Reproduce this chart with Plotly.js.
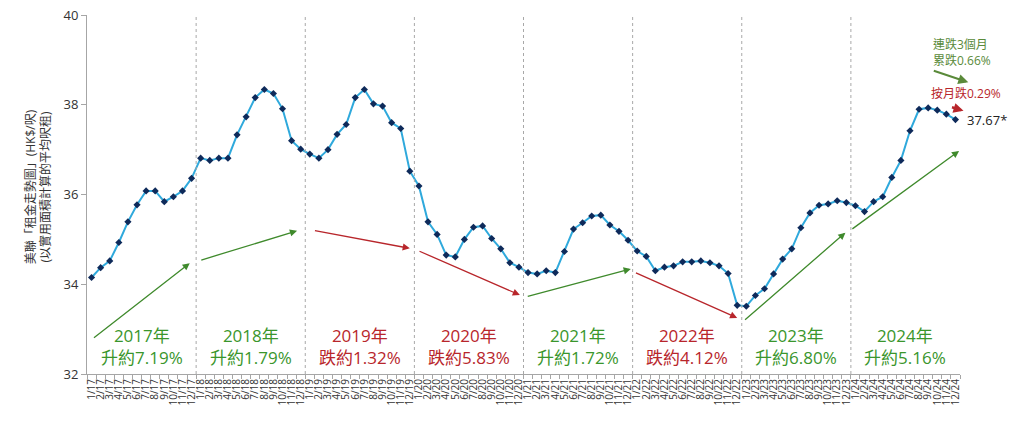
<!DOCTYPE html>
<html>
<head>
<meta charset="utf-8">
<script src="https://cdn.plot.ly/plotly-3.0.1.min.js"></script>
<style>
  html, body { margin: 0; padding: 0; background: #fff; }
  #chart { width: 1024px; height: 424px; }
</style>
</head>
<body>
<div id="chart"></div>
<script>
// Years and months on the category axis
const YEARS = [17, 18, 19, 20, 21, 22, 23, 24];
const MONTHS = [1, 2, 3, 4, 5, 6, 7, 8, 9, 10, 11, 12];

// Average rent (HK$ per sq ft, saleable area), one value per month
const RENT_2017 = [34.15, 34.37, 34.52, 34.93, 35.39, 35.77, 36.08, 36.08, 35.84, 35.95, 36.08, 36.36];
const RENT_2018 = [36.81, 36.76, 36.81, 36.81, 37.33, 37.73, 38.16, 38.34, 38.25, 37.91, 37.20, 37.01];
const RENT_2019 = [36.90, 36.81, 37.00, 37.34, 37.56, 38.16, 38.34, 38.02, 37.97, 37.60, 37.47, 36.52];
const RENT_2020 = [36.19, 35.39, 35.11, 34.65, 34.61, 35.00, 35.27, 35.30, 35.02, 34.79, 34.48, 34.38];
const RENT_2021 = [34.26, 34.23, 34.30, 34.26, 34.73, 35.23, 35.37, 35.52, 35.54, 35.32, 35.18, 34.98];
const RENT_2022 = [34.74, 34.62, 34.30, 34.38, 34.41, 34.50, 34.50, 34.52, 34.48, 34.41, 34.24, 33.53];
const RENT_2023 = [33.51, 33.75, 33.90, 34.23, 34.56, 34.79, 35.26, 35.59, 35.76, 35.79, 35.86, 35.82];
const RENT_2024 = [35.75, 35.62, 35.84, 35.95, 36.38, 36.76, 37.42, 37.90, 37.93, 37.88, 37.79, 37.67];

// Yearly change labels
const YEAR_NAMES = ["2017年", "2018年", "2019年", "2020年", "2021年", "2022年", "2023年", "2024年"];
const YEAR_CHANGES = ["升約7.19%", "升約1.79%", "跌約1.32%", "跌約5.83%", "升約1.72%", "跌約4.12%", "升約6.80%", "升約5.16%"];
const YEAR_UP = [true, true, false, false, true, false, true, true];

const LATEST_LABEL = "37.67*";
const MONTH_NOTE = "按月跌0.29%";
const THREE_MONTH_NOTE = "連跌3個月<br>累跌0.66%";

const Y_TITLE = "美聯「租金走勢圖」(HK$/呎)<br>(以實用面積計算的平均呎租)";

// ---- build ----
const labels = [];
YEARS.forEach(y => MONTHS.forEach(m => labels.push(m + "/" + y)));
const rent = [].concat(RENT_2017, RENT_2018, RENT_2019, RENT_2020,
                       RENT_2021, RENT_2022, RENT_2023, RENT_2024);

const FONT = '"Open Sans", "Noto Sans CJK TC", sans-serif';
const GREEN = '#3a962c';
const RED = '#b8262b';
const ARROW_GREEN = '#3f8a2c';
const NOTE_GREEN = '#5a8a3a';

const traces = [{
  type: 'scatter',
  mode: 'lines+markers',
  x: labels,
  y: rent,
  line: { color: '#2fa9dc', width: 2 },
  marker: { symbol: 'diamond', size: 5.5, color: '#0e2a5a' },
  hoverinfo: 'x+y',
  cliponaxis: false
}];

// year dividers (dotted) between December and January
const shapes = YEARS.slice(1).map((_, i) => ({
  type: 'line', xref: 'x', yref: 'paper',
  x0: (i + 1) * 12 - 0.5, x1: (i + 1) * 12 - 0.5, y0: 0, y1: 1,
  line: { color: '#a8a8a8', width: 1, dash: 'dot' }
}));

const annotations = [];

// year labels
YEAR_NAMES.forEach((name, i) => {
  annotations.push({
    xref: 'x', yref: 'y', x: i * 12 + 5.5, y: 32.62,
    text: name + '<br>' + YEAR_CHANGES[i],
    showarrow: false, xanchor: 'center', yanchor: 'middle',
    font: { family: FONT, size: 17, color: YEAR_UP[i] ? GREEN : RED }
  });
});

// trend arrows: [tail x, tail y, head x, head y] in axis units
const ARROWS = [
  [0.1, 32.78, 10.8, 34.47],
  [11.9, 34.53, 22.6, 35.19],
  [24.4, 35.20, 35.0, 34.80],
  [35.9, 34.75, 47.1, 33.76],
  [47.8, 33.72, 59.3, 34.34],
  [59.7, 34.27, 71.0, 33.25],
  [71.7, 33.18, 82.9, 35.15],
  [83.5, 35.21, 95.4, 36.97]
];
ARROWS.forEach((a, i) => {
  annotations.push({
    xref: 'x', yref: 'y', axref: 'x', ayref: 'y',
    x: a[2], y: a[3], ax: a[0], ay: a[1],
    text: '', showarrow: true, arrowhead: 2, arrowsize: 1.1, arrowwidth: 1.3,
    arrowcolor: YEAR_UP[i] ? ARROW_GREEN : RED
  });
});

// notes at the right end
annotations.push(
  { xref: 'paper', yref: 'paper', x: 1.0095, y: 0.8125, ax: -36, ay: -12,
    text: '', showarrow: true, arrowhead: 2, arrowsize: 1, arrowwidth: 2, arrowcolor: NOTE_GREEN },
  { xref: 'paper', yref: 'paper', x: 1.004, y: 0.733, ax: -13, ay: -4,
    text: '', showarrow: true, arrowhead: 2, arrowsize: 0.8, arrowwidth: 2.5, arrowcolor: RED },
  { xref: 'paper', yref: 'paper', x: (931 - 87) / 873, y: (374 - 52) / 359,
    text: THREE_MONTH_NOTE, showarrow: false, xanchor: 'left', yanchor: 'middle', align: 'left',
    font: { family: FONT, size: 12, color: NOTE_GREEN } },
  { xref: 'paper', yref: 'paper', x: (929 - 87) / 873, y: (374 - 93) / 359,
    text: MONTH_NOTE, showarrow: false, xanchor: 'left', yanchor: 'middle',
    font: { family: FONT, size: 12, color: RED } },
  { xref: 'paper', yref: 'paper', x: (965 - 87) / 873, y: (374 - 120) / 359,
    text: LATEST_LABEL, showarrow: false, xanchor: 'left', yanchor: 'middle',
    font: { family: FONT, size: 13, color: '#222' } },
  { xref: 'paper', yref: 'paper', x: (38 - 87) / 873, y: 0.52,
    text: Y_TITLE, showarrow: false, textangle: -90, xanchor: 'center', yanchor: 'middle',
    font: { family: FONT, size: 12, color: '#333' } }
);

const layout = {
  width: 1024, height: 424,
  margin: { t: 15, r: 64, b: 50, l: 87 },
  paper_bgcolor: '#fff', plot_bgcolor: '#fff',
  showlegend: false,
  font: { family: FONT, color: '#333' },
  xaxis: {
    type: 'category',
    range: [-0.5, labels.length - 0.5],
    tickmode: 'linear', tick0: 0, dtick: 1,
    tickangle: -90,
    tickfont: { family: FONT, size: 10, color: '#333' },
    showline: true, linecolor: '#a6a6a6', linewidth: 1,
    ticks: 'outside', ticklen: 4, tickcolor: '#a6a6a6', tickson: 'boundaries',
    showgrid: false, zeroline: false
  },
  yaxis: {
    range: [32, 40],
    tickvals: [32, 34, 36, 38, 40],
    tickfont: { family: FONT, size: 13, color: '#333' },
    showline: true, linecolor: '#a6a6a6', linewidth: 1,
    ticks: 'outside', ticklen: 5, tickcolor: '#a6a6a6',
    showgrid: false, zeroline: false
  },
  shapes: shapes,
  annotations: annotations
};

Plotly.newPlot('chart', traces, layout, { displayModeBar: false, responsive: false });
</script>
</body>
</html>
